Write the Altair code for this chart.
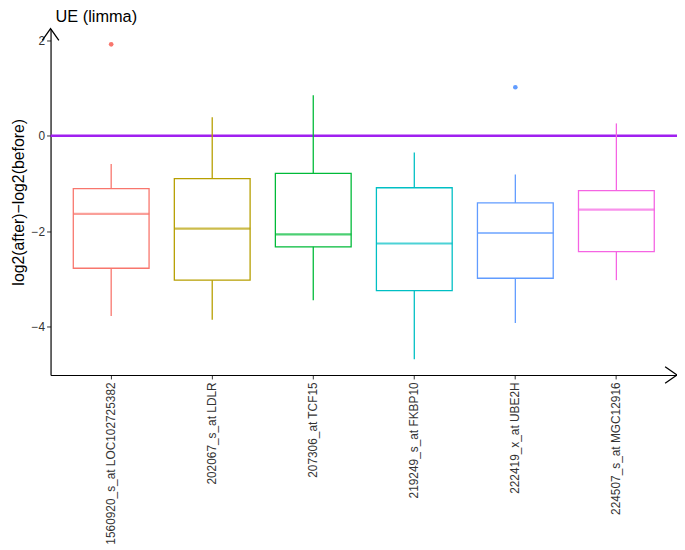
import altair as alt
import pandas as pd

probes = ["1560920_s_at LOC102725382", "202067_s_at LDLR", "207306_at TCF15",
          "219249_s_at FKBP10", "222419_x_at UBE2H", "224507_s_at MGC12916"]
colors = ["#F8766D", "#B79F00", "#00BA38", "#00BFC4", "#619CFF", "#F564E3"]
low = [-3.78, -3.86, -3.45, -4.69, -3.93, -3.03]
q1 = [-2.78, -3.03, -2.33, -3.25, -2.99, -2.43]
med = [-1.64, -1.95, -2.07, -2.26, -2.04, -1.55]
q3 = [-1.11, -0.90, -0.79, -1.09, -1.41, -1.15]
high = [-0.59, 0.39, 0.85, -0.35, -0.81, 0.26]
outlier_probe = ["1560920_s_at LOC102725382", "222419_x_at UBE2H"]
outlier_value = [1.92, 1.02]

df = pd.DataFrame({"probe": probes, "low": low, "q1": q1, "med": med, "q3": q3, "high": high})
dfo = pd.DataFrame({"probe": outlier_probe, "value": outlier_value})

W, H = 633, 350
FONT = "Liberation Sans"

xscale = alt.Scale(domain=probes, paddingInner=0, paddingOuter=0.1)
yscale = alt.Scale(domain=[-5.02, 2.25], nice=False, zero=False)
cscale = alt.Scale(domain=probes, range=colors)

xenc = alt.X("probe:N", scale=xscale, sort=probes,
             axis=alt.Axis(title=None, labelAngle=-90, labelAlign="right", labelBaseline="middle",
                           labelFontSize=12, labelColor="#333333", labelFont=FONT,
                           domainColor="black", domainWidth=1.2, tickColor="#333333",
                           tickSize=4, labelPadding=3, grid=False))

base = alt.Chart(df)

whisk = base.mark_rule(strokeWidth=1.3).encode(
    x=xenc,
    y=alt.Y("low:Q", scale=yscale,
            axis=alt.Axis(title="log2(after)\u2212log2(before)", values=[-4, -2, 0, 2],
                          labelExpr="replace(datum.label, '-', '\u2212')",
                          titleFontSize=16, titleFont=FONT, titleFontWeight="normal", titleColor="black",
                          titlePadding=5,
                          labelFontSize=12, labelColor="#333333", labelFont=FONT,
                          domainColor="black", domainWidth=1.2, tickColor="#333333",
                          tickSize=4, grid=False)),
    y2="high:Q",
    color=alt.Color("probe:N", scale=cscale, legend=None),
)

box = base.mark_bar(width={"band": 0.75}, fill="white", strokeWidth=1.3).encode(
    x=alt.X("probe:N", scale=xscale, sort=probes),
    y=alt.Y("q1:Q", scale=yscale),
    y2="q3:Q",
    stroke=alt.Color("probe:N", scale=cscale, legend=None),
)

median = base.mark_tick(size=77, thickness=2.2).encode(
    x=alt.X("probe:N", scale=xscale, sort=probes),
    y=alt.Y("med:Q", scale=yscale),
    color=alt.Color("probe:N", scale=cscale, legend=None),
)

outl = alt.Chart(dfo).mark_circle(size=22, opacity=1).encode(
    x=alt.X("probe:N", scale=xscale, sort=probes),
    y=alt.Y("value:Q", scale=yscale),
    color=alt.Color("probe:N", scale=cscale, legend=None),
)

zero = alt.Chart(pd.DataFrame({"z": [0]})).mark_rule(color="#A020F0", strokeWidth=2.5).encode(
    y=alt.Y("z:Q", scale=yscale),
)

one = pd.DataFrame({"a": [0]})
up_arrow = alt.Chart(one).mark_point(shape="M-0.7,1L0,0L0.7,1", size=576, filled=False,
                                     color="black", strokeWidth=1.3, opacity=1).encode(
    x=alt.value(0), y=alt.value(0))
right_arrow = alt.Chart(one).mark_point(shape="M-1,-0.7L0,0L-1,0.7", size=576, filled=False,
                                        color="black", strokeWidth=1.3, opacity=1).encode(
    x=alt.value(W), y=alt.value(H))

chart = alt.layer(zero, whisk, box, median, outl, up_arrow, right_arrow).properties(
    width=W, height=H,
    title=alt.TitleParams("UE (limma)", anchor="start", frame="group", fontSize=16.5, font=FONT,
                          fontWeight="normal", color="black", dx=5, offset=1),
    autosize=alt.AutoSizeParams(type="none"),
    padding={"left": 43, "top": 18, "right": 0, "bottom": 170},
).configure_view(stroke=None)

chart.save("out.html", embed_options={"renderer": "svg", "actions": False})
